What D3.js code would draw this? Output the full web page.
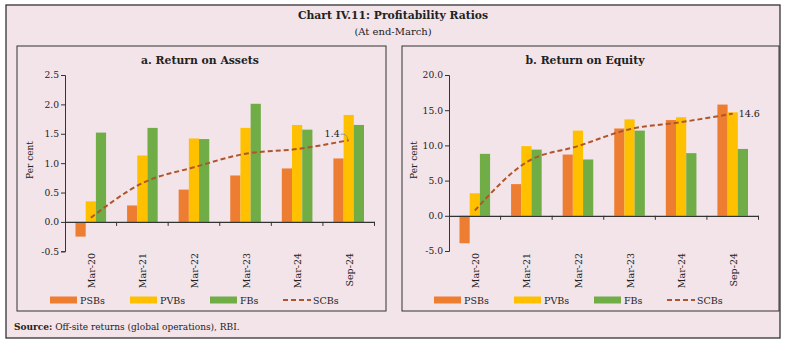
<!DOCTYPE html>
<html lang="en">
<head>
<meta charset="utf-8">
<title>Chart IV.11</title>
<script src="https://cdn.jsdelivr.net/npm/d3@7"></script>
<style>
  html, body { margin: 0; padding: 0; background: #fff; }
  svg { display: block; font-family: "DejaVu Serif", serif; }
</style>
</head>
<body>
<script>
// data
var categories = ["Mar-20", "Mar-21", "Mar-22", "Mar-23", "Mar-24", "Sep-24"];
var seriesNames = ["PSBs", "PVBs", "FBs", "SCBs"];

var roaPSB = [-0.25, 0.28, 0.55, 0.79, 0.91, 1.08];
var roaPVB = [0.35, 1.13, 1.42, 1.60, 1.65, 1.82];
var roaFB  = [1.52, 1.60, 1.41, 2.01, 1.57, 1.65];
var roaSCB = [0.07, 0.66, 0.93, 1.16, 1.24, 1.39];
var roaTicks = [-0.5, 0, 0.5, 1.0, 1.5, 2.0, 2.5];

var roePSB = [-3.9, 4.5, 8.7, 12.4, 13.6, 15.8];
var roePVB = [3.2, 9.9, 12.1, 13.7, 14.0, 14.7];
var roeFB  = [8.8, 9.4, 8.0, 12.1, 8.9, 9.5];
var roeSCB = [0.75, 7.6, 9.9, 12.3, 13.3, 14.5];
var roeTicks = [-5, 0, 5, 10, 15, 20];

var colors = { PSBs: "#ed7d31", PVBs: "#ffc000", FBs: "#70ad47", SCBs: "#b0552b" };
var legendOffsets = [0, 80, 160, 233];

var W = 785, H = 344;
var svg = d3.select("body").append("svg").attr("width", W).attr("height", H);

// background + outer frame
svg.append("rect").attr("x", 0).attr("y", 0).attr("width", W).attr("height", H).attr("fill", "#fff");
svg.append("rect").attr("x", 6).attr("y", 5).attr("width", 774).attr("height", 333)
  .attr("fill", "#f3e4ea").attr("stroke", "#333").attr("stroke-width", 1.3);

svg.append("text").attr("x", 393).attr("y", 19).attr("text-anchor", "middle")
  .attr("font-size", 10.8).attr("font-weight", "bold").attr("fill", "#222")
  .text("Chart IV.11: Profitability Ratios");
svg.append("text").attr("x", 393).attr("y", 35).attr("text-anchor", "middle")
  .attr("font-size", 10).attr("fill", "#222").text("(At end-March)");

var src = svg.append("text").attr("x", 14).attr("y", 330).attr("font-size", 9).attr("fill", "#222");
src.append("tspan").attr("font-weight", "bold").text("Source:");
src.append("tspan").text(" Off-site returns (global operations), RBI.");

var fmt = function (d) { return d3.format(".1f")(d).replace("\u2212", "-"); };

function drawPanel(p) {
  var g = svg.append("g");
  g.append("rect").attr("x", p.x0).attr("y", 46).attr("width", p.x1 - p.x0).attr("height", 265)
    .attr("fill", "none").attr("stroke", "#333").attr("stroke-width", 1);

  g.append("text").attr("x", p.titleX).attr("y", 64).attr("text-anchor", "middle")
    .attr("font-size", 10.8).attr("font-weight", "bold").attr("fill", "#222").text(p.title);

  var y = d3.scaleLinear().domain(p.domain).range([p.yBottom, 75]);
  var x = d3.scaleBand().domain(categories).range([p.axisX, p.axisX + 309.5]);
  var bw = x.bandwidth();
  var x1 = d3.scaleBand().domain(["PSBs", "PVBs", "FBs"]).range([bw / 2 - 15.3, bw / 2 + 15.3]);

  // y axis
  var yAxis = d3.axisLeft(y).tickValues(p.ticks).tickSize(4).tickPadding(2).tickFormat(fmt);
  var ya = g.append("g").attr("transform", "translate(" + p.axisX + ",0)").call(yAxis);
  ya.select(".domain").attr("stroke", "#333");
  ya.selectAll(".tick line").attr("stroke", "#333");
  ya.selectAll(".tick text").attr("font-family", "DejaVu Serif").attr("font-size", 9.2).attr("fill", "#222");

  g.append("text").attr("transform", "translate(" + (p.axisX - 32) + "," + 160 + ") rotate(-90)")
    .attr("text-anchor", "middle").attr("font-size", 9).attr("fill", "#222").text("Per cent");

  // bars
  var bars = [["PSBs", p.psb], ["PVBs", p.pvb], ["FBs", p.fb]];
  bars.forEach(function (s) {
    g.append("g").selectAll("rect").data(s[1]).enter().append("rect")
      .attr("x", function (d, i) { return x(categories[i]) + x1(s[0]); })
      .attr("y", function (d) { return y(Math.max(0, d)); })
      .attr("width", x1.bandwidth())
      .attr("height", function (d) { return Math.abs(y(d) - y(0)); })
      .attr("fill", colors[s[0]]);
  });

  // x axis at zero
  var xAxis = d3.axisBottom(x).tickSize(0).tickFormat("");
  var xa = g.append("g").attr("transform", "translate(0," + y(0) + ")").call(xAxis);
  xa.select(".domain").attr("stroke", "#333").attr("stroke-width", 1.2);
  xa.selectAll(".tick").remove();
  g.append("g").selectAll("line").data(categories).enter().append("line")
    .attr("x1", function (d) { return x(d) + bw; }).attr("x2", function (d) { return x(d) + bw; })
    .attr("y1", y(0)).attr("y2", y(0) + 4).attr("stroke", "#333");

  // category labels
  g.append("g").selectAll("text").data(categories).enter().append("text")
    .attr("transform", function (d) { return "translate(" + (x(d) + bw / 2 + 4) + ",253) rotate(-90)"; })
    .attr("text-anchor", "end").attr("font-size", 9.5).attr("fill", "#222").text(function (d) { return d; });

  // SCB line
  var line = d3.line()
    .x(function (d, i) { return x(categories[i]) + bw / 2; })
    .y(function (d) { return y(d); })
    .curve(d3.curveMonotoneX);
  g.append("path").datum(p.scb).attr("d", line).attr("fill", "none")
    .attr("stroke", colors.SCBs).attr("stroke-width", 2).attr("stroke-dasharray", "5,3");

  var lastX = x(categories[5]) + bw / 2, lastY = y(p.scb[5]);
  if (p.leader) {
    g.append("path")
      .attr("d", "M" + (lastX - 8) + "," + (lastY - 6) + " Q" + (lastX - 2) + "," + (lastY - 7) + " " + (lastX - 1) + "," + (lastY - 1))
      .attr("fill", "none").attr("stroke", "#888").attr("stroke-width", 0.8);
    g.append("text").attr("x", lastX - 9).attr("y", lastY - 3).attr("text-anchor", "end")
      .attr("font-size", 9.5).attr("fill", "#222").text(p.label);
  } else {
    g.append("text").attr("x", lastX + 6).attr("y", lastY + 3)
      .attr("font-size", 9.5).attr("fill", "#222").text(p.label);
  }

  // legend
  var lg = g.append("g").attr("transform", "translate(" + p.legendX + ",300)");
  seriesNames.forEach(function (n, i) {
    var item = lg.append("g").attr("transform", "translate(" + legendOffsets[i] + ",0)");
    if (n == "SCBs") {
      item.append("line").attr("x1", 0).attr("x2", 28).attr("y1", 0).attr("y2", 0)
        .attr("stroke", colors.SCBs).attr("stroke-width", 2).attr("stroke-dasharray", "5,3");
    } else {
      item.append("rect").attr("x", 0).attr("y", -3.5).attr("width", 27).attr("height", 7).attr("fill", colors[n]);
    }
    item.append("text").attr("x", 30).attr("y", 3.5).attr("font-size", 9.5).attr("fill", "#222").text(n);
  });
}

drawPanel({
  x0: 17, x1: 386, title: "a. Return on Assets", titleX: 200,
  axisX: 65, domain: [-0.5, 2.5], yBottom: 251.3, ticks: roaTicks,
  psb: roaPSB, pvb: roaPVB, fb: roaFB, scb: roaSCB, label: "1.4", leader: true, legendX: 50
});
drawPanel({
  x0: 402, x1: 779, title: "b. Return on Equity", titleX: 585,
  axisX: 449, domain: [-5, 20], yBottom: 251, ticks: roeTicks,
  psb: roePSB, pvb: roePVB, fb: roeFB, scb: roeSCB, label: "14.6", leader: false, legendX: 434
});
</script>
</body>
</html>
